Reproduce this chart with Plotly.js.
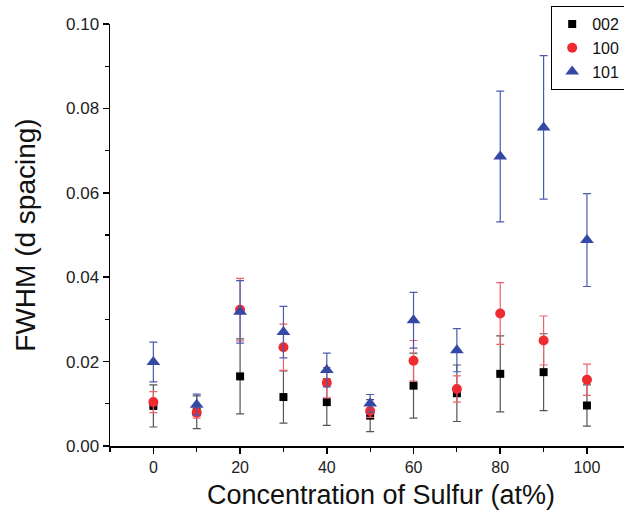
<!DOCTYPE html>
<html>
<head>
<meta charset="utf-8">
<script src="https://cdn.plot.ly/plotly-3.0.1.min.js"></script>
<style>
html,body{margin:0;padding:0;overflow:hidden;background:#fff;width:624px;height:513px;}
#chart{width:700px;height:523px;margin-top:-10px;}
</style>
</head>
<body>
<div id="chart"></div>
<script>
const concentration = [0, 10, 20, 30, 40, 50, 60, 70, 80, 90, 100];
const fwhm002 = [0.0095, 0.0080, 0.0165, 0.0116, 0.0104, 0.0072, 0.0143, 0.0125, 0.0171, 0.0175, 0.0096];
const err002  = [0.0050, 0.0039, 0.0089, 0.0062, 0.0055, 0.0038, 0.0077, 0.0067, 0.0090, 0.0091, 0.0049];
const fwhm100 = [0.0104, 0.0079, 0.0323, 0.0234, 0.0150, 0.0083, 0.0202, 0.0135, 0.0314, 0.0250, 0.0157];
const err100  = [0.0025, 0.0013, 0.0074, 0.0055, 0.0036, 0.0015, 0.0048, 0.0031, 0.0073, 0.0058, 0.0037];
const fwhm101 = [0.0199, 0.0098, 0.0318, 0.0270, 0.0180, 0.0101, 0.0298, 0.0227, 0.0686, 0.0755, 0.0488];
const err101  = [0.0047, 0.0025, 0.0074, 0.0061, 0.0040, 0.0021, 0.0066, 0.0051, 0.0155, 0.0170, 0.0110];
const seriesNames = ['002', '100', '101'];

const traces = [
  {x: concentration, y: fwhm002, name: seriesNames[0], type: 'scatter', mode: 'markers',
   marker: {symbol: 'square', size: 8, color: '#000000'},
   error_y: {type: 'data', array: err002, visible: true, color: '#555555', thickness: 1.2, width: 4}},
  {x: concentration, y: fwhm100, name: seriesNames[1], type: 'scatter', mode: 'markers',
   marker: {symbol: 'circle', size: 10, color: '#ee2b30'},
   error_y: {type: 'data', array: err100, visible: true, color: '#f0606a', thickness: 1.2, width: 4}},
  {x: concentration, y: fwhm101, name: seriesNames[2], type: 'scatter', mode: 'markers',
   marker: {symbol: 'triangle-up', size: 12, color: '#3448a6'},
   error_y: {type: 'data', array: err101, visible: true, color: '#4a5cb0', thickness: 1.2, width: 4}}
];

const layout = {
  width: 700, height: 523,
  margin: {l: 110, r: 48, t: 34, b: 67},
  paper_bgcolor: '#ffffff', plot_bgcolor: '#ffffff',
  font: {family: 'Liberation Sans, Arial, sans-serif', color: '#222222', size: 16},
  showlegend: true,
  legend: {x: 0.814, y: 1.0427, xanchor: 'left', yanchor: 'top',
           bordercolor: '#000000', borderwidth: 1, bgcolor: '#ffffff',
           entrywidth: 100, entrywidthmode: 'pixels',
           font: {size: 16, color: '#111111'}},
  xaxis: {
    range: [-10, 115], showgrid: false, zeroline: false,
    showline: true, linecolor: '#000000', linewidth: 1.5,
    ticks: 'outside', ticklen: 6, tickwidth: 1.5, tickcolor: '#000000',
    tick0: 0, dtick: 20,
    minor: {dtick: 10, tick0: 0, ticks: 'outside', ticklen: 4, tickwidth: 1.2, tickcolor: '#000000'},
    tickfont: {size: 16},
    title: {text: 'Concentration of Sulfur (at%)', font: {size: 27, color: '#111111'}, standoff: 10}
  },
  yaxis: {
    range: [0, 0.1], showgrid: false, zeroline: false,
    showline: true, linecolor: '#000000', linewidth: 1.5,
    ticks: 'outside', ticklen: 6, tickwidth: 1.5, tickcolor: '#000000',
    tick0: 0, dtick: 0.02, tickformat: '.2f',
    minor: {dtick: 0.01, tick0: 0, ticks: 'outside', ticklen: 4, tickwidth: 1.2, tickcolor: '#000000'},
    tickfont: {size: 17},
    title: {text: 'FWHM (d spacing)', font: {size: 28, color: '#111111'}, standoff: 22}
  }
};

Plotly.newPlot('chart', traces, layout, {displayModeBar: false, staticPlot: true});
</script>
</body>
</html>
